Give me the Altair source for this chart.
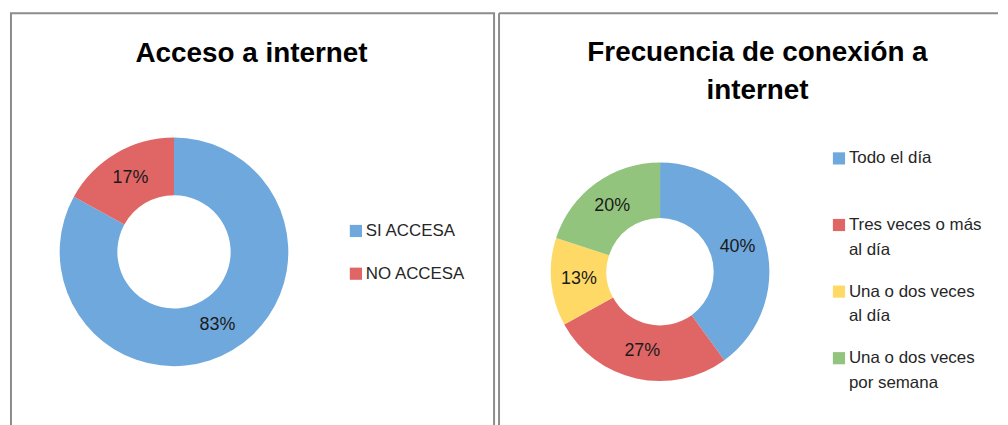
import altair as alt
import pandas as pd

FONT = "Liberation Sans, Arial, sans-serif"

# ---- data ----
titulo_izq = "Acceso a internet"
cats_izq = ["SI ACCESA", "NO ACCESA"]
vals_izq = [83, 17]

titulo_der = "Frecuencia de conexión a\ninternet"
cats_der = ["Todo el día", "Tres veces o más\nal día", "Una o dos veces\nal día", "Una o dos veces\npor semana"]
vals_der = [40, 27, 13, 20]

colores_izq = ["#6FA8DC", "#E06666"]
colores_der = ["#6FA8DC", "#E06666", "#FFD966", "#93C47D"]

BORDER = "#8c8c8c"


def panel(title, cats, vals, colors, W, H, cx, cy, r_out, r_in, r_lab,
          tx, ty, lx, ly_range, own_border):
    df = pd.DataFrame({
        "cat": cats,
        "val": vals,
        "orden": list(range(len(cats))),
        "pct": [f"{v}%" for v in vals],
    })
    base = alt.Chart(df)
    color = alt.Color("cat:N", scale=alt.Scale(domain=cats, range=colors), legend=None)
    arcs = base.mark_arc(outerRadius=r_out, innerRadius=r_in).encode(
        theta=alt.Theta("val:Q", stack=True),
        color=color,
        order=alt.Order("orden:Q"),
        x=alt.value(cx), y=alt.value(cy),
    )
    labels = base.mark_text(radius=r_lab, font=FONT, fontSize=18, color="#1a1a1a").encode(
        theta=alt.Theta("val:Q", stack=True),
        order=alt.Order("orden:Q"),
        text="pct:N",
        x=alt.value(cx), y=alt.value(cy),
    )
    ysc = alt.Scale(domain=cats, range=ly_range, type="point", padding=0)
    squares = base.mark_square(size=150, opacity=1, filled=True).encode(
        y=alt.Y("cat:N", scale=ysc, axis=None),
        x=alt.value(lx),
        color=color,
    )
    legtext = base.mark_text(align="left", baseline="middle", lineBreak="\n", lineHeight=25,
                             font=FONT, fontSize=17, color="#262626").encode(
        y=alt.Y("cat:N", scale=ysc, axis=None),
        x=alt.value(lx + 10),
        text="cat:N",
    )
    tit = alt.Chart(pd.DataFrame({"t": [title]})).mark_text(
        font=FONT, fontSize=28, fontWeight="bold", lineBreak="\n", lineHeight=38,
        align="center", baseline="alphabetic", color="#000000").encode(
        text="t:N", x=alt.value(tx), y=alt.value(ty))
    layers = [arcs, labels, squares, legtext, tit]
    props = dict(width=W, height=H)
    if not own_border:
        edge = alt.Chart(pd.DataFrame({"e": [0]}))
        top = edge.mark_rule(color=BORDER, strokeWidth=2).encode(
            x=alt.value(0), x2=alt.value(W), y=alt.value(0))
        lft = edge.mark_rule(color=BORDER, strokeWidth=2).encode(
            x=alt.value(0), y=alt.value(0), y2=alt.value(H))
        layers += [top, lft]
        props["view"] = alt.ViewBackground(stroke="transparent")
    return alt.layer(*layers).properties(**props)


left = panel(titulo_izq, cats_izq, vals_izq, colores_izq, 486, 430,
             164, 240, 115, 57, 86, 242, 49, 347, [219, 262], True)
right = panel(titulo_der, cats_der, vals_der, colores_der, 502, 430,
              162, 260, 110, 54, 82, 260, 48, 342, [146, 347], False)

chart = alt.hconcat(left, right, spacing=2).resolve_scale(
    color="independent", theta="independent", y="independent"
).properties(
    padding={"left": 2, "top": 2, "right": 0, "bottom": 0}
).configure_view(stroke=BORDER, strokeWidth=2)

chart.save("out.html", embed_options={"renderer": "svg", "actions": False})
